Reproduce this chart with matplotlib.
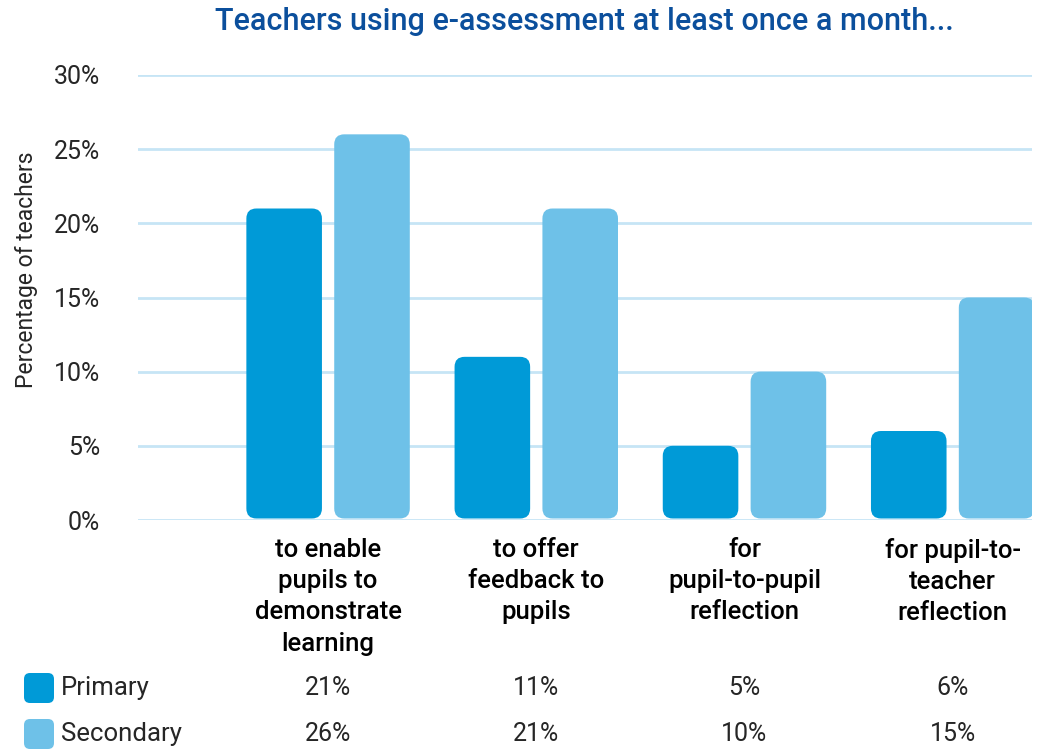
import matplotlib
matplotlib.use("Agg")
import matplotlib.pyplot as plt
from matplotlib.patches import FancyBboxPatch
import numpy as np

# Data
categories = [
    "to enable\npupils to\ndemonstrate\nlearning",
    "to offer\nfeedback to\npupils",
    "for\npupil-to-pupil\nreflection",
    "for pupil-to-\nteacher\nreflection",
]
series_names = ["Primary", "Secondary"]
primary = [21, 11, 5, 6]
secondary = [26, 21, 10, 15]
yticks = [0, 5, 10, 15, 20, 25, 30]

c_primary = "#009AD7"
c_secondary = "#6EC1E8"
c_grid = "#C6E5F5"
c_title = "#0B4F9C"
c_text = "#262626"

plt.rcParams["font.family"] = ["Roboto", "DejaVu Sans"]

W, H, DPI = 1040, 749, 100
PT = 72 / DPI  # points per pixel
fig = plt.figure(figsize=(W / DPI, H / DPI), dpi=DPI)
ax_l, ax_r, ax_t, ax_b = 138, 1032, 75, 520
ax = fig.add_axes([ax_l / W, 1 - ax_b / H, (ax_r - ax_l) / W, (ax_b - ax_t) / H])

x = np.arange(len(categories))
off, bw = 0.211, 0.363
xlim = (-0.913, 3.381)
ax.set_xlim(*xlim)
ax.set_ylim(0, 30)

# pixel scale of the data axes, used for the rounded bar corners
px_x = (ax_r - ax_l) / (xlim[1] - xlim[0])
px_y = (ax_b - ax_t) / 30
r_px = 10
aspect = px_x / px_y

for vals, col, dx in [(primary, c_primary, -off), (secondary, c_secondary, off)]:
    bars = ax.bar(x + dx, vals, width=bw, color=col)
    for b in bars:
        b.set_visible(False)
        gap = 1.5 / px_y
        p = FancyBboxPatch((b.get_x(), gap), b.get_width(), b.get_height() - gap,
                           boxstyle=f"round,pad=0,rounding_size={r_px / px_x}",
                           mutation_aspect=aspect, facecolor=col, edgecolor="none",
                           zorder=3)
        ax.add_patch(p)

# horizontal grid
ax.set_yticks(yticks)
ax.set_yticklabels([f"{t}%" for t in yticks], fontsize=18, fontweight="normal", color=c_text)
for t in yticks:
    ax.axhline(t, color=c_grid, lw=2.0, zorder=1)
ax.tick_params(axis="y", length=0, pad=38 * PT)
ax.tick_params(axis="x", length=0, pad=13)
for s in ax.spines.values():
    s.set_visible(False)

ax.set_xticks(x)
ax.set_xticklabels(categories, fontsize=18.5, fontweight="medium", color="#000000",
                   linespacing=1.38, va="top")

ax.set_ylabel("Percentage of teachers", fontsize=16.5, fontweight="normal", color=c_text)
ax.yaxis.set_label_coords(-(ax_l - 27) / (ax_r - ax_l), (ax_b - 270) / (ax_b - ax_t))
ax.yaxis.label.set_va("center")

fig.text(584 / W, 1 - 22 / H, "Teachers using e-assessment at least once a month...",
         ha="center", va="center", fontsize=22, fontweight="medium", color=c_title)

# data table with legend keys
rows = [(primary, c_primary, 688), (secondary, c_secondary, 734)]
fx = fig.transFigure
for name, (vals, col, ypx) in zip(series_names, rows):
    yf = 1 - ypx / H
    side = 30
    key = FancyBboxPatch((24 / W, yf - (side / 2) / H), side / W, side / H,
                         boxstyle=f"round,pad=0,rounding_size={6 / W}",
                         mutation_aspect=W / H, facecolor=col, edgecolor="none",
                         transform=fx)
    fig.add_artist(key)
    fig.text(61 / W, yf, name, ha="left", va="center", fontsize=18.5,
             fontweight="normal", color=c_text)
    for xi, v in zip(x, vals):
        xf = fx.inverted().transform(ax.transData.transform((xi, 0)))[0]
        fig.text(xf, yf, f"{v}%", ha="center", va="center", fontsize=18,
                 fontweight="normal", color=c_text)

fig.savefig("out.png", dpi=DPI)
